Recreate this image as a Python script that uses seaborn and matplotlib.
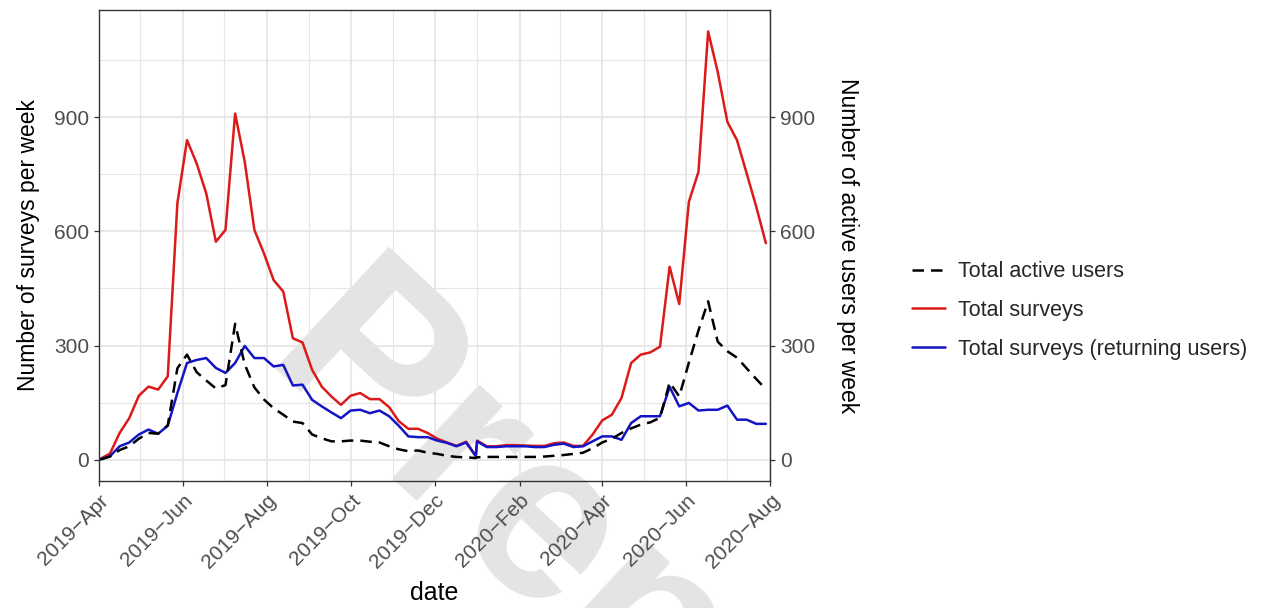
import numpy as np
import pandas as pd
import matplotlib
matplotlib.use("Agg")
import matplotlib.pyplot as plt
import matplotlib.dates as mdates
from matplotlib.ticker import FixedLocator, MultipleLocator
import seaborn as sns

# Weekly periods, with weeks counted from 1 January of each year
weeks_2019 = pd.date_range("2019-04-02", "2019-12-31", freq="7D")
weeks_2020 = pd.date_range("2020-01-01", "2020-07-29", freq="7D")
week_start = weeks_2019.append(weeks_2020)

total_surveys = [
    2, 16, 70, 109, 168, 192, 184, 219, 674, 840,
    779, 700, 573, 604, 910, 783, 604, 542, 472, 442,
    319, 308, 236, 192, 166, 144, 168, 175, 159, 159,
    138, 101, 81, 81, 70, 55, 45, 36, 47, 10,
    50, 35, 35, 38, 38, 37, 36, 36, 43, 45,
    36, 36, 66, 103, 118, 162, 254, 276, 282, 297,
    507, 409, 678, 757, 1126, 1019, 888, 840, 753, 665,
    569,
]
returning_surveys = [
    1, 9, 35, 45, 66, 79, 68, 89, 175, 254,
    262, 267, 241, 228, 254, 299, 267, 267, 245, 249,
    195, 197, 157, 140, 124, 109, 129, 131, 122, 129,
    114, 89, 61, 59, 59, 50, 44, 35, 45, 9,
    48, 33, 33, 35, 35, 35, 33, 33, 39, 42,
    33, 35, 48, 61, 61, 52, 96, 114, 114, 114,
    191, 140, 149, 129, 131, 131, 142, 105, 105, 94,
    94,
]
active_users = [
    0, 8, 25, 35, 55, 70, 68, 90, 240, 276,
    230, 208, 187, 196, 357, 250, 190, 158, 135, 118,
    100, 96, 66, 56, 48, 48, 50, 50, 47, 45,
    35, 27, 22, 24, 18, 15, 10, 7, 6, 4,
    6, 7, 7, 7, 7, 7, 7, 8, 10, 12,
    15, 18, 30, 45, 55, 70, 82, 92, 98, 110,
    203, 166, 255, 340, 416, 310, 285, 268, 240, 212,
    185,
]

series_labels = ["Total active users", "Total surveys", "Total surveys (returning users)"]
y_ticks = [0, 300, 600, 900]

df = pd.DataFrame({
    "date": week_start,
    "surveys": total_surveys,
    "returning": returning_surveys,
    "users": active_users,
})

sns.set_theme(style="white")
plt.rcParams["font.family"] = ["Liberation Sans", "DejaVu Sans"]

fig = plt.figure(figsize=(12.70, 6.08), dpi=100)
ax = fig.add_axes([99 / 1270, 1 - 481 / 608, (770 - 99) / 1270, (481 - 10) / 608])

grey_txt = "#4d4d4d"
frame = "#333333"
grid_c = "#e6e6e6"

# watermark behind everything in the panel
ax.text(258 / 1270, 1 - 368 / 608, "Preprint", transform=fig.transFigure,
        rotation=-43, rotation_mode="anchor", ha="left", va="baseline",
        fontsize=174, fontweight="bold", color="#e4e4e4",
        zorder=0.3, clip_on=False)

lw = 1.8
sns.lineplot(data=df, x="date", y="surveys", ax=ax, color="#dc1a1a",
             linewidth=lw, label=series_labels[1], zorder=3)
sns.lineplot(data=df, x="date", y="returning", ax=ax, color="#1414c4",
             linewidth=lw, label=series_labels[2], zorder=4)
sns.lineplot(data=df, x="date", y="users", ax=ax, color="black",
             linewidth=lw, label=series_labels[0], zorder=5)
ax.lines[-1].set_dashes((4.6, 2.8))

ymax = max(max(total_surveys), max(returning_surveys), max(active_users))
pad = 0.05 * ymax
ax.set_ylim(-pad, ymax + pad)
ax.set_xlim(pd.Timestamp("2019-04-01"), pd.Timestamp("2020-08-01"))

ax.xaxis.set_major_locator(mdates.MonthLocator(bymonth=[2, 4, 6, 8, 10, 12]))
ax.xaxis.set_minor_locator(mdates.MonthLocator(bymonth=[1, 3, 5, 7, 9, 11]))
ax.xaxis.set_major_formatter(mdates.DateFormatter("%Y\u2212%b"))
ax.yaxis.set_major_locator(FixedLocator(y_ticks))
ax.yaxis.set_minor_locator(MultipleLocator(150))

ax.set_axisbelow(True)
ax.grid(True, which="major", color=grid_c, linewidth=1.3)
ax.grid(True, which="minor", color=grid_c, linewidth=0.8)

for s in ax.spines.values():
    s.set_visible(True)
    s.set_color(frame)
    s.set_linewidth(1.0)

ax.tick_params(which="major", direction="out", length=3.6, width=0.9,
               color=frame, labelcolor=grey_txt, labelsize=15, pad=3.5,
               bottom=True, left=True)
ax.tick_params(which="minor", length=0)
for lab in ax.get_xticklabels():
    lab.set_rotation(45)
    lab.set_ha("right")
    lab.set_va("top")
    lab.set_rotation_mode("anchor")

ax.set_xlabel("date", fontsize=18, color="black", labelpad=6)
ax.set_ylabel("Number of surveys per week", fontsize=16.5, color="black", labelpad=10)

ax2 = ax.twinx()
ax2.set_ylim(ax.get_ylim())
ax2.yaxis.set_major_locator(FixedLocator(y_ticks))
ax2.grid(False)
for s in ax2.spines.values():
    s.set_visible(False)
ax2.tick_params(axis="y", which="major", direction="out", length=3.6, width=0.9,
                color=frame, labelcolor=grey_txt, labelsize=15, pad=3.5, right=True)
ax2.set_ylabel("Number of active users per week", fontsize=16.5, color="black",
               rotation=270, va="bottom", labelpad=15)

handles, labels = ax.get_legend_handles_labels()
order = [labels.index(l) for l in series_labels]
ax.get_legend().remove()
fig.legend([handles[i] for i in order], [labels[i] for i in order],
           loc="center left", bbox_to_anchor=(912 / 1270, 1 - 310.5 / 608),
           frameon=False, fontsize=15.5, handlelength=1.55, handletextpad=0.6,
           labelspacing=0.83, borderpad=0, borderaxespad=0)

fig.savefig("out.png", dpi=100)
